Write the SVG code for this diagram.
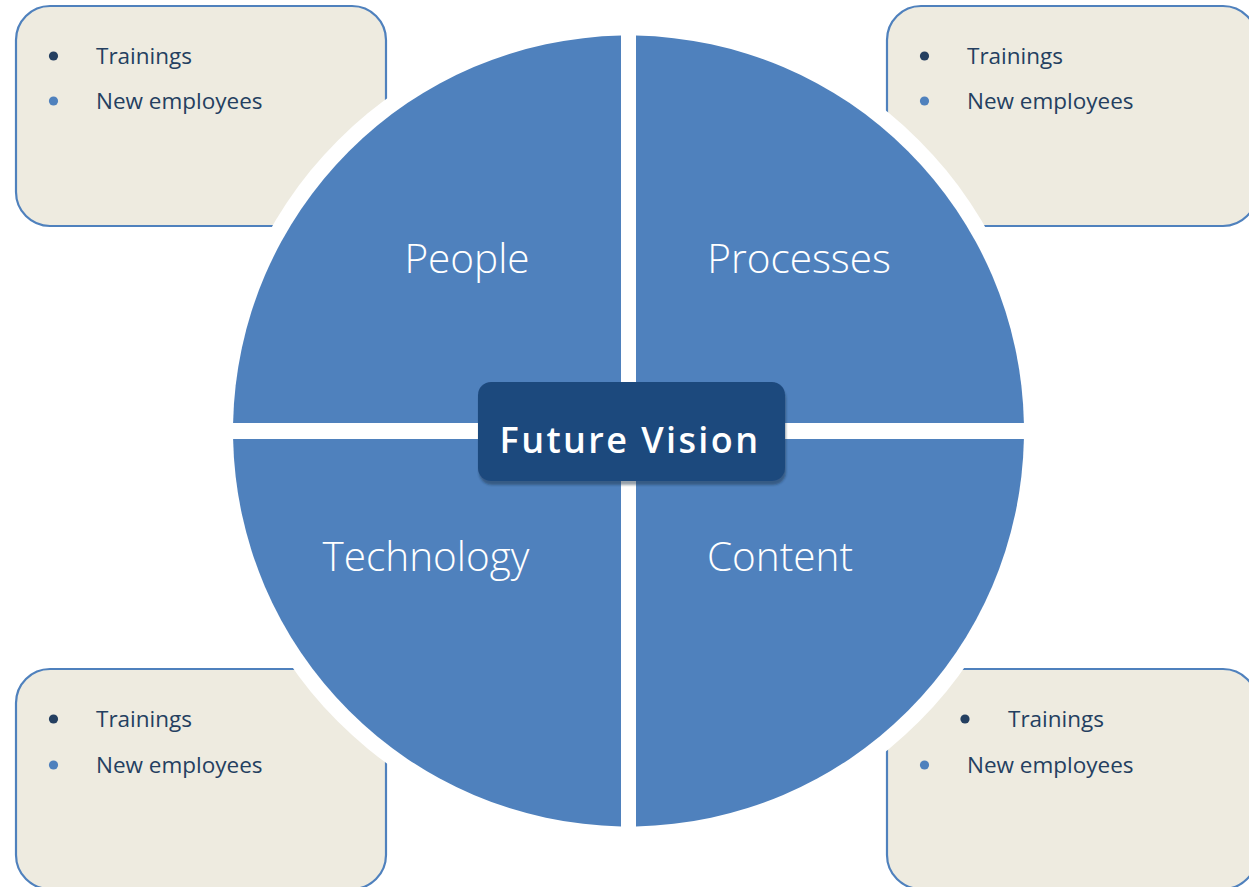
<svg xmlns="http://www.w3.org/2000/svg" width="1249" height="887" viewBox="0 0 1249 887">
  <style>
    .box { fill: #EEEBE0; stroke: #4F81BD; stroke-width: 2.2; }
    .item { font-family: "Open Sans", "Noto Sans", "Liberation Sans", sans-serif; font-size: 22.5px; fill: #243F60; }
    .dot-dark { fill: #243F60; }
    .dot-light { fill: #4F81BD; }
    .quad { fill: #4F81BD; }
    .qlabel { font-family: "Open Sans", "Noto Sans", "Liberation Sans", sans-serif; font-size: 40.5px; font-weight: 350; fill: #FFFFFF; }
    .hub { fill: #1F497D; }
    .hub-text { font-family: "Open Sans", "Noto Sans", "Liberation Sans", sans-serif; font-size: 36px; font-weight: 600; fill: #FFFFFF; letter-spacing: 2.4px; }
  </style>
  <defs>
    <filter id="hubShadow" x="-10%" y="-10%" width="120%" height="130%">
      <feDropShadow dx="1" dy="4" stdDeviation="1.2" flood-color="#1a2a40" flood-opacity="0.45"/>
    </filter>
  </defs>

  <rect width="1249" height="887" fill="#FFFFFF"/>

  <!-- corner note cards -->
  <g id="card-people">
    <rect class="box" x="16" y="6" width="370" height="220" rx="34"/>
    <circle class="dot-dark" cx="53.5" cy="56" r="4.6"/>
    <text class="item" x="96" y="64">Trainings</text>
    <circle class="dot-light" cx="53.5" cy="101" r="4.6"/>
    <text class="item" x="96" y="109">New employees</text>
  </g>
  <g id="card-processes">
    <rect class="box" x="887" y="6" width="370" height="220" rx="34"/>
    <circle class="dot-dark" cx="924.5" cy="56" r="4.6"/>
    <text class="item" x="967" y="64">Trainings</text>
    <circle class="dot-light" cx="924.5" cy="101" r="4.6"/>
    <text class="item" x="967" y="109">New employees</text>
  </g>
  <g id="card-technology">
    <rect class="box" x="16" y="669" width="370" height="220" rx="34"/>
    <circle class="dot-dark" cx="53.5" cy="719" r="4.6"/>
    <text class="item" x="96" y="727">Trainings</text>
    <circle class="dot-light" cx="53.5" cy="765" r="4.6"/>
    <text class="item" x="96" y="773">New employees</text>
  </g>
  <g id="card-content">
    <rect class="box" x="887" y="669" width="370" height="220" rx="34"/>
    <circle class="dot-dark" cx="965" cy="719" r="4.6"/>
    <text class="item" x="1008" y="727">Trainings</text>
    <circle class="dot-light" cx="924.5" cy="765" r="4.6"/>
    <text class="item" x="967" y="773">New employees</text>
  </g>

  <!-- white halo separating the wheel from the cards -->
  <circle cx="628.5" cy="431" r="411" fill="#FFFFFF"/>

  <!-- wheel quadrants -->
  <g id="quad-people">
    <path class="quad" d="M621,423 L621,35.6 A395.5,395.5 0 0 0 233.1,423 Z"/>
    <text class="qlabel" x="467" y="273" text-anchor="middle">People</text>
  </g>
  <g id="quad-processes">
    <path class="quad" d="M636,423 L1023.9,423 A395.5,395.5 0 0 0 636,35.6 Z"/>
    <text class="qlabel" x="799" y="273" text-anchor="middle">Processes</text>
  </g>
  <g id="quad-technology">
    <path class="quad" d="M621,439 L233.1,439 A395.5,395.5 0 0 0 621,826.4 Z"/>
    <text class="qlabel" x="426" y="571" text-anchor="middle">Technology</text>
  </g>
  <g id="quad-content">
    <path class="quad" d="M636,439 L636,826.4 A395.5,395.5 0 0 0 1023.9,439 Z"/>
    <text class="qlabel" x="780" y="571" text-anchor="middle">Content</text>
  </g>

  <!-- central hub -->
  <g id="hub-future-vision">
    <rect class="hub" x="478" y="382" width="307" height="99" rx="13" filter="url(#hubShadow)"/>
    <text class="hub-text" x="630" y="453" text-anchor="middle">Future Vision</text>
  </g>
</svg>
